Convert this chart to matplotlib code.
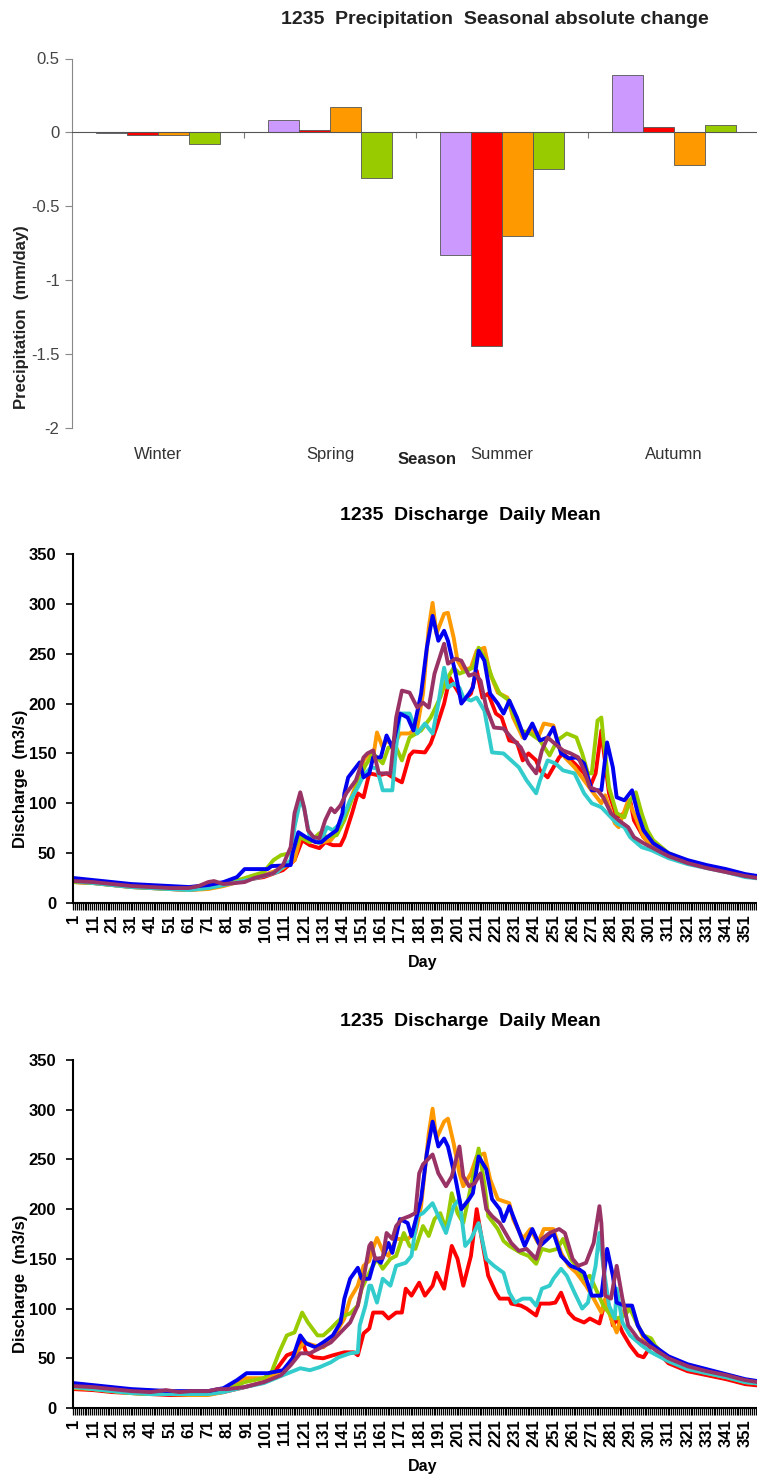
import numpy as np
import matplotlib
matplotlib.use('Agg')
import matplotlib.pyplot as plt

plt.rcParams['font.family'] = ['Liberation Sans', 'DejaVu Sans']

# seasonal precipitation change (mm/day), one list per scenario colour
SEASONS = ['Winter', 'Spring', 'Summer', 'Autumn']
PRECIP_PURPLE = [-0.003, 0.085, -0.827, 0.387]
PRECIP_RED = [-0.02, 0.016, -1.445, 0.038]
PRECIP_ORANGE = [-0.02, 0.173, -0.703, -0.222]
PRECIP_GREEN = [-0.081, -0.31, -0.249, 0.049]

# daily mean discharge (m3/s) as (day, value) pairs, upper chart
Q1_RED = [(1,21),(11,20),(21,18),(31,16),(41,15),(51,14),(61,13),(71,15),(79,18),(90,23),(100,26),(110,33),(116,43),(120,63),(124,58),(129,55),(132,61),(136,58),(140,58),(142,66),(146,90),(149,110),(152,106),(155,130),(160,128),(164,130),(168,125),(172,121),(176,148),(178,152),(184,151),(187,160),(190,176),(194,200),(197,226),(200,216),(204,203),(208,210),(211,233),(214,206),(217,210),(221,190),(224,186),(228,163),(232,161),(235,143),(238,150),(242,143),(244,133),(248,126),(251,136),(254,146),(256,150),(262,140),(267,130),(270,116),(273,130),(276,173),(277,156),(280,110),(284,86),(288,90),(291,103),(293,83),(298,66),(303,56),(311,47),(321,41),(331,36),(341,32),(351,27),(361,24),(365,23)]
Q1_ORANGE = [(1,22),(11,21),(21,19),(31,17),(41,16),(51,14),(61,13),(71,14),(79,17),(90,23),(100,28),(110,35),(116,43),(119,66),(124,63),(129,60),(135,63),(140,76),(145,103),(149,123),(152,143),(155,150),(157,146),(159,171),(162,156),(164,163),(168,158),(171,170),(176,170),(180,176),(183,210),(186,276),(188,301),(190,270),(194,290),(196,291),(199,266),(201,243),(204,233),(208,236),(211,253),(215,256),(218,230),(222,211),(227,206),(230,186),(235,166),(239,176),(243,166),(246,180),(251,178),(254,156),(257,146),(262,136),(267,123),(272,110),(276,100),(278,108),(283,80),(285,76),(290,103),(293,90),(298,66),(303,56),(311,47),(321,41),(331,36),(341,32),(351,27),(361,24),(365,23)]
Q1_GREEN = [(1,21),(11,20),(21,18),(31,16),(41,15),(51,14),(61,14),(71,15),(79,18),(90,25),(100,31),(105,43),(109,48),(114,50),(119,66),(124,61),(129,70),(133,66),(138,68),(142,83),(147,110),(151,130),(153,138),(157,150),(162,140),(165,156),(169,156),(172,143),(176,166),(182,173),(187,186),(192,206),(195,223),(199,236),(202,230),(206,233),(209,236),(212,256),(216,243),(219,226),(223,210),(228,203),(230,190),(234,173),(239,170),(244,163),(249,148),(253,163),(258,170),(263,166),(266,150),(269,130),(271,130),(274,183),(276,186),(277,166),(280,116),(284,90),(288,86),(291,103),(294,111),(297,90),(300,73),(303,63),(311,50),(321,42),(331,37),(341,33),(351,28),(361,25),(365,24)]
Q1_CYAN = [(1,22),(11,20),(21,18),(31,16),(41,15),(51,14),(61,13),(71,15),(79,18),(96,25),(107,31),(114,43),(116,76),(119,103),(121,95),(124,66),(129,60),(133,76),(136,73),(140,80),(145,103),(149,116),(152,128),(156,136),(159,135),(162,113),(167,113),(169,156),(171,190),(176,190),(180,170),(184,180),(188,170),(191,200),(194,236),(196,216),(199,220),(202,216),(204,206),(208,203),(211,206),(215,193),(219,151),(225,150),(229,143),(233,136),(237,123),(242,110),(244,123),(248,143),(252,140),(256,133),(262,130),(267,110),(271,100),(276,96),(279,90),(284,80),(288,76),(291,66),(297,56),(302,53),(311,45),(321,39),(331,35),(341,31),(351,26),(361,24),(365,23)]
Q1_BLUE = [(1,25),(11,23),(21,21),(31,19),(41,18),(51,17),(61,16),(71,18),(79,21),(86,26),(90,34),(102,34),(104,37),(114,38),(115,50),(118,71),(122,66),(127,61),(130,61),(133,66),(138,73),(141,90),(142,110),(144,126),(148,136),(150,141),(152,126),(155,130),(157,146),(161,146),(164,168),(167,156),(171,190),(175,186),(178,173),(182,210),(185,256),(188,288),(191,263),(194,273),(196,263),(200,230),(203,200),(207,210),(209,216),(212,253),(215,243),(218,210),(222,200),(225,190),(228,203),(232,186),(236,165),(240,180),(244,163),(248,166),(251,176),(255,150),(259,145),(263,146),(267,140),(271,113),(276,113),(279,161),(282,136),(284,106),(288,103),(292,113),(295,90),(298,73),(303,60),(311,50),(321,43),(331,38),(341,34),(351,29),(361,26),(365,25)]
Q1_PURPLE = [(1,22),(11,21),(21,19),(31,17),(41,16),(51,15),(61,15),(66,17),(71,21),(74,22),(79,19),(85,20),(90,21),(95,25),(105,30),(110,38),(114,56),(116,90),(119,111),(121,96),(123,73),(126,66),(129,65),(132,83),(135,95),(137,91),(140,98),(143,110),(148,123),(152,146),(154,150),(157,153),(160,130),(166,130),(169,186),(172,213),(176,211),(180,196),(183,201),(186,196),(189,230),(194,260),(196,240),(200,245),(203,243),(207,228),(210,230),(213,223),(216,196),(220,176),(225,175),(229,166),(234,156),(238,140),(242,130),(245,153),(248,166),(251,161),(256,153),(260,150),(264,146),(267,133),(270,116),(274,113),(277,106),(281,90),(285,83),(290,76),(293,66),(298,60),(303,55),(311,47),(321,40),(331,35),(341,31),(351,27),(361,24),(365,23)]

# lower chart
Q2_RED = [(1,19),(11,18),(21,16),(31,15),(41,14),(51,13),(61,13),(71,14),(79,16),(90,21),(100,26),(107,40),(112,53),(116,56),(120,68),(122,56),(126,51),(131,50),(136,53),(142,56),(147,56),(149,53),(152,75),(155,80),(157,96),(162,96),(165,90),(169,96),(172,96),(174,120),(177,113),(181,126),(184,113),(188,123),(190,136),(194,120),(198,163),(201,150),(204,123),(208,153),(211,200),(214,166),(217,133),(221,116),(223,110),(228,110),(229,105),(234,103),(237,100),(242,93),(244,105),(249,105),(252,106),(255,116),(259,96),(262,90),(267,86),(270,90),(275,85),(277,100),(279,110),(282,83),(284,90),(287,76),(291,63),(295,53),(298,51),(302,63),(306,55),(311,45),(321,37),(331,33),(341,29),(351,24),(361,22),(365,21)]
Q2_ORANGE = [(1,20),(11,19),(21,17),(31,15),(41,14),(51,14),(61,13),(71,13),(79,16),(90,30),(100,30),(110,36),(116,53),(121,66),(126,63),(131,61),(136,70),(142,90),(145,110),(149,123),(152,143),(155,148),(156,156),(159,171),(162,158),(165,153),(169,170),(175,170),(179,176),(182,203),(186,276),(188,301),(190,271),(194,288),(196,291),(199,266),(202,236),(204,223),(208,236),(211,253),(215,256),(218,230),(222,210),(228,206),(230,190),(235,170),(239,180),(243,166),(246,180),(251,180),(255,156),(259,143),(263,136),(268,123),(272,110),(276,96),(278,110),(281,90),(284,76),(287,96),(290,103),(293,93),(298,70),(303,63),(311,50),(321,42),(331,37),(341,33),(351,28),(361,25),(365,24)]
Q2_GREEN = [(1,21),(11,19),(21,17),(31,15),(41,14),(51,14),(61,14),(71,15),(79,17),(90,26),(100,30),(104,36),(108,56),(112,73),(116,76),(120,96),(123,86),(128,73),(131,73),(135,80),(138,86),(142,93),(145,95),(149,103),(151,120),(156,140),(159,150),(162,140),(166,150),(169,153),(173,176),(176,163),(179,160),(183,183),(186,173),(189,190),(192,196),(195,180),(198,216),(201,196),(204,186),(208,223),(212,261),(215,226),(217,193),(222,180),(225,168),(228,163),(234,156),(238,153),(242,145),(245,160),(249,158),(253,160),(256,170),(260,150),(264,140),(267,130),(270,133),(274,116),(277,103),(281,93),(284,90),(288,93),(291,100),(295,83),(298,73),(302,70),(304,63),(311,48),(321,40),(331,35),(341,31),(351,26),(361,24),(365,23)]
Q2_CYAN = [(1,21),(11,19),(21,17),(31,15),(41,14),(51,14),(61,14),(71,14),(79,16),(90,21),(100,25),(110,33),(119,40),(124,38),(129,41),(135,46),(139,51),(145,55),(149,56),(150,83),(153,103),(155,123),(156,123),(159,106),(162,130),(166,123),(169,143),(174,146),(177,153),(180,193),(183,196),(188,206),(191,193),(195,176),(199,203),(202,210),(205,163),(208,170),(212,186),(216,150),(220,143),(225,136),(228,116),(231,106),(235,110),(239,110),(242,103),(245,120),(249,123),(251,130),(255,140),(258,133),(262,116),(266,100),(269,106),(273,143),(275,176),(277,143),(280,103),(283,90),(284,120),(287,86),(291,73),(297,63),(302,56),(311,47),(321,39),(331,35),(341,31),(351,26),(361,24),(365,23)]
Q2_BLUE = [(1,25),(11,23),(21,21),(31,19),(41,18),(51,17),(61,17),(71,17),(79,20),(86,28),(91,35),(102,35),(110,38),(115,50),(119,73),(122,65),(127,61),(131,66),(136,73),(140,86),(142,110),(145,130),(149,141),(151,130),(155,130),(158,151),(161,146),(165,166),(167,156),(171,190),(175,186),(177,173),(182,210),(185,256),(188,288),(191,263),(194,271),(196,263),(200,230),(203,200),(207,210),(209,216),(212,253),(216,240),(219,210),(223,200),(225,188),(228,203),(232,183),(236,163),(240,180),(244,163),(248,170),(251,176),(255,153),(260,143),(264,140),(267,136),(271,113),(276,113),(279,160),(282,133),(284,106),(288,103),(292,103),(295,83),(298,73),(303,63),(311,52),(321,44),(331,39),(341,34),(351,29),(361,26),(365,25)]
Q2_PURPLE = [(1,22),(11,21),(21,19),(31,17),(41,16),(49,18),(56,16),(62,17),(71,17),(76,19),(81,19),(90,21),(100,26),(109,33),(114,43),(119,55),(124,55),(129,60),(135,66),(140,76),(145,86),(149,103),(152,130),(155,163),(156,166),(158,150),(162,151),(164,176),(167,170),(169,183),(172,190),(176,193),(179,196),(181,236),(183,245),(188,255),(191,236),(195,223),(198,233),(202,263),(204,233),(207,223),(210,226),(213,236),(216,200),(219,193),(223,186),(229,166),(233,158),(237,160),(242,150),(245,170),(249,176),(254,180),(257,176),(261,150),(264,143),(268,146),(272,166),(275,203),(276,186),(278,113),(281,110),(284,143),(287,110),(290,83),(295,70),(298,66),(303,60),(311,50),(321,42),(331,37),(341,33),(351,28),(361,25),(365,24)]

DAY_LABELS = list(range(1, 352, 10))

RED = '#FF0000'
ORANGE = '#FF9900'
GREEN = '#99CC00'
CYAN = '#33CCCC'
BLUE = '#0000F0'
PURPLE = '#993366'
LAVENDER = '#CC99FF'

W, H = 757, 1474


def fx(px):
    return px / W


def fy(py):
    return 1 - py / H


def draw_precip_bars(fig):
    ax = fig.add_axes([fx(72), fy(428), 688 / W, (428 - 58.5) / H])
    x = np.arange(len(SEASONS))
    width = 0.18
    groups = [(PRECIP_PURPLE, LAVENDER), (PRECIP_RED, RED), (PRECIP_ORANGE, ORANGE), (PRECIP_GREEN, GREEN)]
    for i, (vals, col) in enumerate(groups):
        ax.bar(x + (i - 1.5) * width, vals, width, color=col, edgecolor='#555555', linewidth=0.6, zorder=2)

    ax.set_xlim(-0.5, 3.5)
    ax.set_ylim(-2, 0.5)
    ax.spines['top'].set_visible(False)
    ax.spines['right'].set_visible(False)
    ax.spines['bottom'].set_position(('data', 0))
    ax.spines['bottom'].set_color('#555555')
    ax.spines['bottom'].set_zorder(3)
    ax.spines['left'].set_color('#888888')

    ax.set_xticks([0.5, 1.5, 2.5])
    ax.set_xticklabels([])
    ax.tick_params(axis='x', length=4, color='#777777')
    ticks = [0.5, 0, -0.5, -1, -1.5, -2]
    ax.set_yticks(ticks)
    ax.set_yticklabels(['0.5', '0', '-0.5', '-1', '-1.5', '-2'], fontsize=12, color='#444444')
    ax.tick_params(axis='y', length=5, pad=4, color='#888888')

    for i, name in enumerate(SEASONS):
        ax.text(i, -0.073, name, transform=ax.get_xaxis_transform(), ha='center', va='center',
                fontsize=12, color='#333333')

    fig.text(fx(495), fy(20), '1235  Precipitation  Seasonal absolute change', ha='center', va='center',
             fontsize=14, fontweight='bold', color='#222222')
    fig.text(fx(427), fy(460), 'Season', ha='center', va='center', fontsize=12, fontweight='bold', color='#222222')
    fig.text(fx(22), fy(317), 'Precipitation  (mm/day)', ha='center', va='center', rotation=90,
             fontsize=12, fontweight='bold', color='#222222')


def draw_discharge(fig, series, top_px, bottom_px):
    ax = fig.add_axes([fx(73), fy(bottom_px), 700 / W, (bottom_px - top_px) / H])
    for pairs, col in series:
        days, flow = zip(*pairs)
        ax.plot(days, flow, color=col, linewidth=2.8, solid_joinstyle='round', solid_capstyle='round')

    ax.set_xlim(0.5, 365.5)
    ax.set_ylim(0, 350)
    ax.spines['top'].set_visible(False)
    ax.spines['right'].set_visible(False)
    ax.spines['left'].set_linewidth(1.5)
    ax.spines['bottom'].set_linewidth(1.5)

    ax.set_yticks(range(0, 351, 50))
    ax.set_yticklabels([str(v) for v in range(0, 351, 50)], fontsize=12, fontweight='bold')
    ax.tick_params(axis='y', length=5, width=1.2, pad=7)

    ax.set_xticks(DAY_LABELS)
    ax.set_xticklabels([str(d) for d in DAY_LABELS], rotation=90, fontsize=12, fontweight='bold')
    ax.set_xticks(np.arange(0.5, 366, 1), minor=True)
    ax.tick_params(axis='x', which='major', length=0, pad=8)
    ax.tick_params(axis='x', which='minor', length=5, width=0.9)

    mid = top_px - 39
    fig.text(fx(470), fy(mid), '1235  Discharge  Daily Mean', ha='center', va='center',
             fontsize=14, fontweight='bold')
    fig.text(fx(423), fy(bottom_px + 59), 'Day', ha='center', va='center', fontsize=11.5, fontweight='bold')
    fig.text(fx(21), fy((top_px + bottom_px) / 2 + 50), 'Discharge  (m3/s)', ha='center', va='center',
             rotation=90, fontsize=12, fontweight='bold')
    return ax


fig = plt.figure(figsize=(W / 100, H / 100), dpi=100)
draw_precip_bars(fig)

upper = [(Q1_RED, RED), (Q1_ORANGE, ORANGE), (Q1_GREEN, GREEN), (Q1_CYAN, CYAN), (Q1_BLUE, BLUE), (Q1_PURPLE, PURPLE)]
lower = [(Q2_RED, RED), (Q2_ORANGE, ORANGE), (Q2_GREEN, GREEN), (Q2_CYAN, CYAN), (Q2_BLUE, BLUE), (Q2_PURPLE, PURPLE)]
draw_discharge(fig, upper, 554, 903)
draw_discharge(fig, lower, 1060, 1408)

fig.savefig('out.png', dpi=100, facecolor='white')
